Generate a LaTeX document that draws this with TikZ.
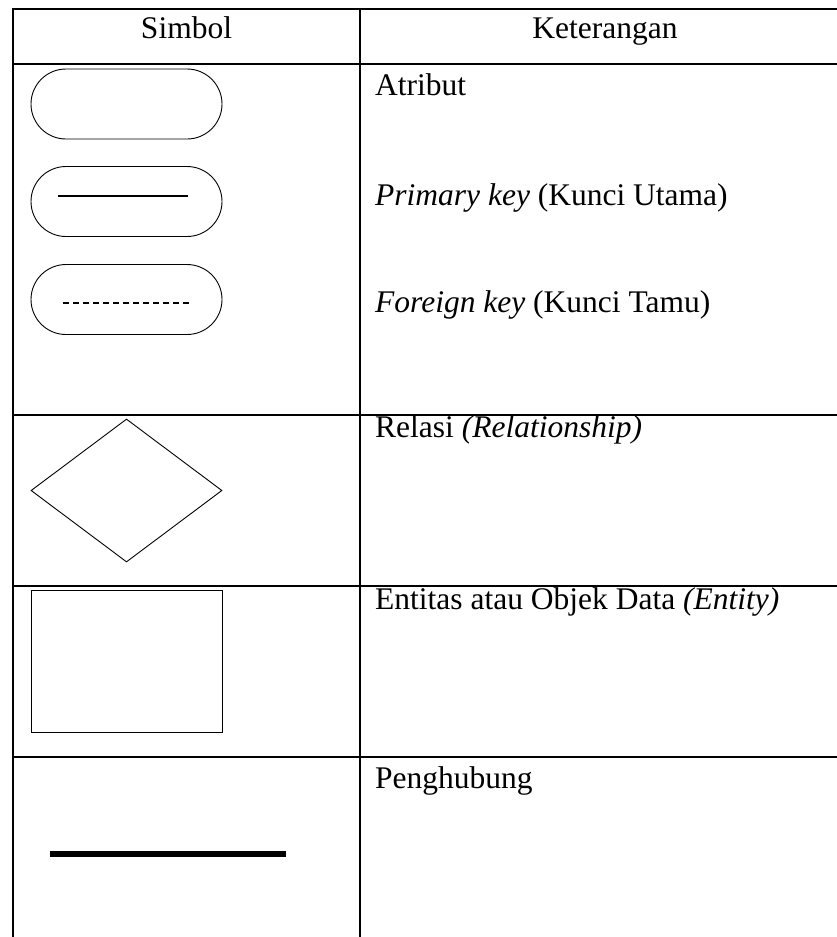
\documentclass[tikz,border=0pt]{standalone}
\usepackage{fontspec}
\setmainfont{Liberation Serif}
\usetikzlibrary{shapes.geometric}
\begin{document}
\begin{tikzpicture}[x=1pt,y=-1pt,
  gridline/.style={line width=2pt,line cap=rect},
  shapeline/.style={draw,line width=0.9pt,inner sep=0pt},
  attr/.style={shapeline,rectangle,rounded corners=35pt,minimum width=191pt,minimum height=70pt},
  rel/.style={shapeline,diamond,minimum width=191pt,minimum height=143pt},
  ent/.style={shapeline,rectangle,minimum width=191pt,minimum height=142pt},
  txt/.style={inner sep=0pt,anchor=base west,font=\fontsize{31.5}{38}\selectfont},
  head/.style={inner sep=0pt,anchor=base,font=\fontsize{31.5}{38}\selectfont}]
\useasboundingbox (0,0) rectangle (836,937);
% table grid
\foreach \yy in {9,64,415,586,757}{
  \draw[gridline] (13,\yy) -- (840,\yy);
}
\draw[gridline] (13,9) -- (13,940);
\draw[gridline] (360,9) -- (360,940);
% header
\node[head] (h1) at (186.5,38) {Simbol};
\node[head] (h2) at (605,38) {Keterangan};
% attribute symbols
\node[attr] (a1) at (126.5,104) {};
\node[attr] (a2) at (126.5,201.5) {};
\node[attr] (a3) at (126.5,299.5) {};
\coordinate (pk1) at (58,196);
\coordinate (pk2) at (188,196);
\draw[line width=1.6pt] (pk1) -- (pk2);
\coordinate (fk1) at (63,303);
\coordinate (fk2) at (189,303);
\draw[line width=1.4pt,dash pattern=on 6pt off 4pt] (fk1) -- (fk2);
% relationship
\node[rel] (r) at (126.5,490.5) {};
% entity
\node[ent] (e) at (126.5,661) {};
% connector
\coordinate (l1) at (50,854);
\coordinate (l2) at (286,854);
\draw[line width=6pt] (l1) -- (l2);
% descriptions
\node[txt] (t1) at (375,95) {Atribut};
\node[txt] (t2) at (375,205) {\textit{Primary key} (Kunci Utama)};
\node[txt] (t3) at (375,312) {\textit{Foreign key} (Kunci Tamu)};
\node[txt] (t4) at (375,437) {Relasi \textit{(Relationship)}};
\node[txt] (t5) at (375,609) {Entitas atau Objek Data \textit{(Entity)}};
\node[txt] (t6) at (375,788) {Penghubung};
\end{tikzpicture}
\end{document}
